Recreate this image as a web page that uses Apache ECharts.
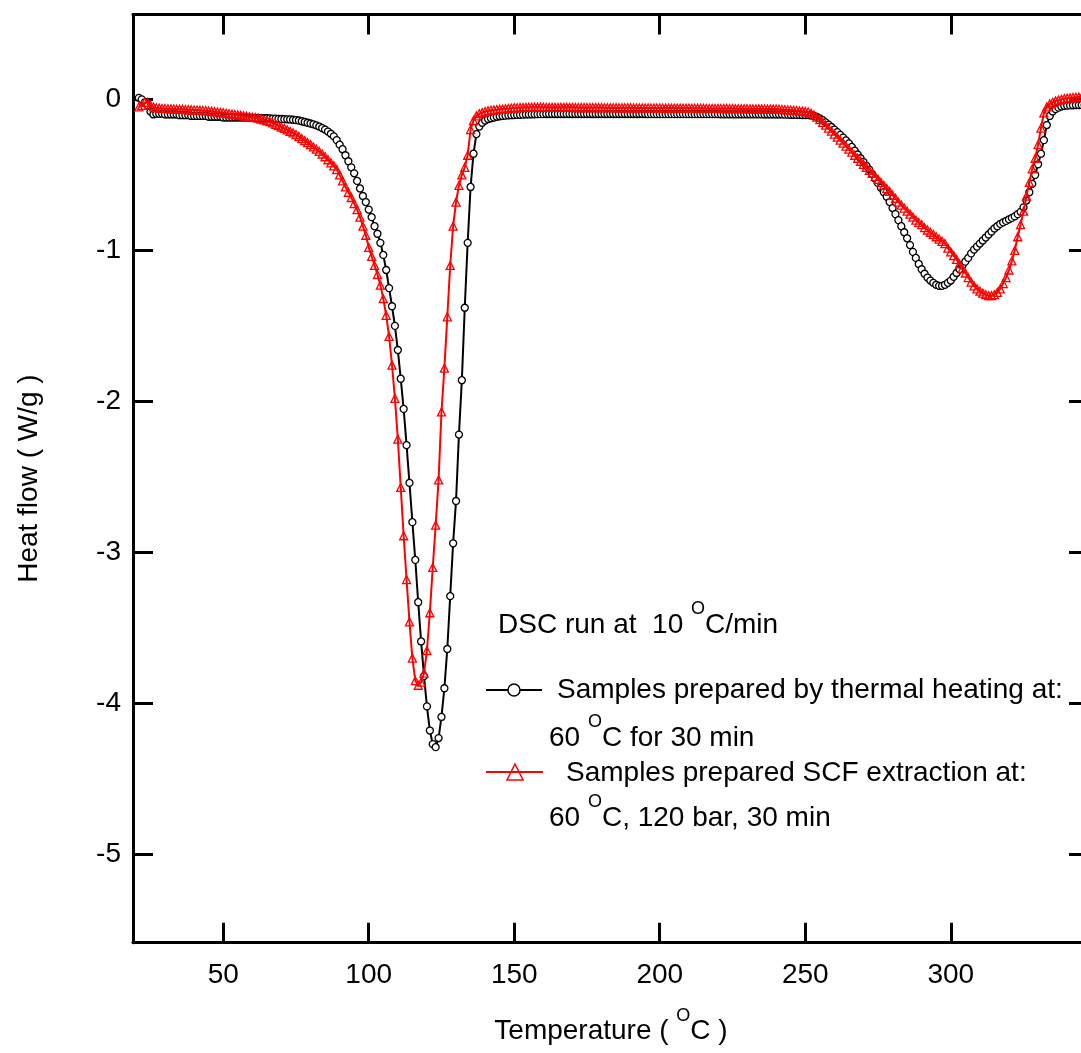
<!DOCTYPE html>
<html>
<head>
<meta charset="utf-8">
<script src="https://cdn.jsdelivr.net/npm/echarts@6/dist/echarts.min.js"></script>
<style>html,body{margin:0;padding:0;background:#fff}#c{width:1081px;height:1053px}</style>
</head>
<body>
<div id="c"></div>
<script>
const temperature = [
21,22,23,24,25,26,27,28,29,30,
31,32,33,34,35,36,37,38,39,40,
41,42,43,44,45,46,47,48,49,50,
51,52,53,54,55,56,57,58,59,60,
61,62,63,64,65,66,67,68,69,70,
71,72,73,74,75,76,77,78,79,80,
81,82,83,84,85,86,87,88,89,90,
91,92,93,94,95,96,97,98,99,100,
101,102,103,104,105,106,107,108,109,110,
111,112,113,114,115,116,117,118,119,120,
121,122,123,124,125,126,127,128,129,130,
131,132,133,134,135,136,137,138,139,140,
141,142,143,144,145,146,147,148,149,150,
151,152,153,154,155,156,157,158,159,160,
161,162,163,164,165,166,167,168,169,170,
171,172,173,174,175,176,177,178,179,180,
181,182,183,184,185,186,187,188,189,190,
191,192,193,194,195,196,197,198,199,200,
201,202,203,204,205,206,207,208,209,210,
211,212,213,214,215,216,217,218,219,220,
221,222,223,224,225,226,227,228,229,230,
231,232,233,234,235,236,237,238,239,240,
241,242,243,244,245,246,247,248,249,250,
251,252,253,254,255,256,257,258,259,260,
261,262,263,264,265,266,267,268,269,270,
271,272,273,274,275,276,277,278,279,280,
281,282,283,284,285,286,287,288,289,290,
291,292,293,294,295,296,297,298,299,300,
301,302,303,304,305,306,307,308,309,310,
311,312,313,314,315,316,317,318,319,320,
321,322,323,324,325,326,327,328,329,330,
331,332,333,334,335,336,337,338,339,340,
341,342,343,344,345,346
];

// Samples prepared by thermal heating (black, circles)
const heatFlowThermal = [
0.01,0.00,-0.02,-0.04,-0.08,-0.10,-0.095,-0.095,-0.095,-0.10,
-0.10,-0.10,-0.10,-0.10,-0.105,-0.105,-0.105,-0.105,-0.11,-0.11,
-0.11,-0.11,-0.11,-0.11,-0.115,-0.115,-0.115,-0.115,-0.115,-0.12,
-0.12,-0.12,-0.12,-0.12,-0.12,-0.12,-0.121,-0.121,-0.121,-0.122,
-0.122,-0.123,-0.124,-0.125,-0.125,-0.126,-0.127,-0.128,-0.129,-0.13,
-0.131,-0.132,-0.133,-0.135,-0.137,-0.14,-0.145,-0.15,-0.155,-0.16,
-0.165,-0.172,-0.18,-0.19,-0.20,-0.213,-0.228,-0.245,-0.27,-0.30,
-0.33,-0.37,-0.41,-0.45,-0.49,-0.54,-0.59,-0.64,-0.68,-0.73,
-0.78,-0.84,-0.89,-0.95,-1.03,-1.13,-1.25,-1.37,-1.50,-1.66,
-1.85,-2.05,-2.29,-2.54,-2.80,-3.05,-3.33,-3.59,-3.82,-4.02,
-4.18,-4.27,-4.29,-4.23,-4.09,-3.90,-3.64,-3.29,-2.94,-2.66,
-2.22,-1.86,-1.38,-0.95,-0.58,-0.36,-0.23,-0.18,-0.155,-0.14,
-0.13,-0.125,-0.12,-0.115,-0.112,-0.11,-0.108,-0.106,-0.105,-0.104,
-0.103,-0.102,-0.101,-0.100,-0.100,-0.099,-0.099,-0.098,-0.098,-0.098,
-0.097,-0.097,-0.097,-0.097,-0.097,-0.097,-0.097,-0.097,-0.097,-0.097,
-0.097,-0.097,-0.097,-0.097,-0.097,-0.097,-0.097,-0.097,-0.097,-0.097,
-0.097,-0.097,-0.097,-0.097,-0.097,-0.097,-0.097,-0.097,-0.097,-0.097,
-0.097,-0.097,-0.097,-0.097,-0.097,-0.098,-0.098,-0.098,-0.098,-0.098,
-0.098,-0.098,-0.098,-0.098,-0.098,-0.098,-0.098,-0.098,-0.098,-0.098,
-0.098,-0.098,-0.098,-0.098,-0.098,-0.098,-0.098,-0.098,-0.098,-0.098,
-0.099,-0.099,-0.099,-0.099,-0.099,-0.099,-0.099,-0.099,-0.099,-0.099,
-0.099,-0.099,-0.099,-0.099,-0.099,-0.100,-0.100,-0.100,-0.100,-0.100,
-0.100,-0.100,-0.101,-0.101,-0.102,-0.102,-0.103,-0.103,-0.104,-0.104,
-0.104,-0.106,-0.11,-0.116,-0.126,-0.138,-0.152,-0.167,-0.183,-0.20,
-0.217,-0.235,-0.253,-0.272,-0.292,-0.315,-0.34,-0.365,-0.39,-0.415,
-0.44,-0.465,-0.495,-0.525,-0.555,-0.585,-0.615,-0.645,-0.68,-0.72,
-0.76,-0.80,-0.84,-0.88,-0.92,-0.965,-1.01,-1.05,-1.09,-1.125,
-1.155,-1.18,-1.20,-1.215,-1.228,-1.235,-1.235,-1.228,-1.215,-1.20,
-1.175,-1.15,-1.125,-1.10,-1.075,-1.05,-1.02,-0.995,-0.975,-0.955,
-0.935,-0.915,-0.895,-0.875,-0.855,-0.84,-0.825,-0.815,-0.805,-0.795,
-0.785,-0.775,-0.76,-0.745,-0.715,-0.67,-0.615,-0.56,-0.50,-0.43,
-0.36,-0.27,-0.17,-0.11,-0.08,-0.065,-0.055,-0.047,-0.043,-0.041,
-0.04,-0.039,-0.038,-0.038,-0.037,-0.037
];

// Samples prepared by SCF extraction (red, triangles)
const heatFlowSCF = [
-0.05,-0.04,-0.02,-0.02,-0.04,-0.05,-0.055,-0.058,-0.06,-0.06,
-0.062,-0.063,-0.064,-0.065,-0.066,-0.066,-0.067,-0.068,-0.069,-0.07,
-0.071,-0.072,-0.074,-0.075,-0.077,-0.079,-0.081,-0.084,-0.086,-0.089,
-0.092,-0.095,-0.098,-0.10,-0.103,-0.106,-0.109,-0.112,-0.115,-0.118,
-0.12,-0.124,-0.13,-0.136,-0.142,-0.148,-0.156,-0.165,-0.174,-0.183,
-0.192,-0.202,-0.212,-0.222,-0.233,-0.246,-0.26,-0.273,-0.287,-0.30,
-0.315,-0.33,-0.345,-0.362,-0.38,-0.40,-0.42,-0.44,-0.465,-0.50,
-0.54,-0.58,-0.615,-0.65,-0.69,-0.73,-0.78,-0.84,-0.90,-0.98,
-1.04,-1.10,-1.16,-1.23,-1.32,-1.43,-1.57,-1.76,-1.98,-2.25,
-2.57,-2.89,-3.18,-3.46,-3.70,-3.85,-3.88,-3.86,-3.80,-3.65,
-3.40,-3.10,-2.82,-2.52,-2.07,-1.78,-1.44,-1.10,-0.84,-0.68,
-0.57,-0.50,-0.45,-0.37,-0.20,-0.14,-0.11,-0.095,-0.088,-0.08,
-0.075,-0.072,-0.07,-0.068,-0.066,-0.064,-0.062,-0.06,-0.058,-0.056,
-0.055,-0.054,-0.053,-0.053,-0.052,-0.052,-0.052,-0.052,-0.052,-0.052,
-0.053,-0.053,-0.053,-0.053,-0.053,-0.053,-0.053,-0.053,-0.053,-0.053,
-0.054,-0.054,-0.054,-0.054,-0.054,-0.054,-0.054,-0.054,-0.054,-0.054,
-0.055,-0.055,-0.055,-0.055,-0.055,-0.056,-0.056,-0.056,-0.056,-0.056,
-0.057,-0.057,-0.057,-0.057,-0.057,-0.057,-0.057,-0.057,-0.057,-0.057,
-0.058,-0.058,-0.058,-0.058,-0.058,-0.058,-0.058,-0.058,-0.058,-0.058,
-0.059,-0.059,-0.059,-0.059,-0.059,-0.060,-0.060,-0.060,-0.060,-0.060,
-0.061,-0.061,-0.061,-0.061,-0.061,-0.062,-0.062,-0.062,-0.062,-0.062,
-0.063,-0.063,-0.063,-0.063,-0.063,-0.064,-0.064,-0.064,-0.064,-0.064,
-0.066,-0.067,-0.068,-0.07,-0.071,-0.072,-0.074,-0.076,-0.078,-0.08,
-0.084,-0.092,-0.104,-0.118,-0.134,-0.152,-0.17,-0.19,-0.21,-0.23,
-0.25,-0.27,-0.29,-0.31,-0.33,-0.35,-0.37,-0.39,-0.41,-0.43,
-0.45,-0.47,-0.49,-0.51,-0.53,-0.55,-0.57,-0.59,-0.61,-0.635,
-0.655,-0.68,-0.70,-0.72,-0.74,-0.76,-0.78,-0.80,-0.815,-0.83,
-0.85,-0.865,-0.88,-0.895,-0.91,-0.925,-0.94,-0.955,-0.985,-1.01,
-1.035,-1.06,-1.09,-1.12,-1.15,-1.18,-1.21,-1.235,-1.255,-1.27,
-1.283,-1.293,-1.30,-1.30,-1.293,-1.278,-1.255,-1.22,-1.18,-1.13,
-1.07,-1.00,-0.91,-0.83,-0.74,-0.64,-0.55,-0.46,-0.39,-0.30,
-0.19,-0.09,-0.05,-0.03,-0.02,-0.01,-0.005,0.0,0.005,0.008,
0.01,0.012,0.014,0.015,0.016,0.017
];

const xTicks = [50, 100, 150, 200, 250, 300];
const yTicks = [-5, -4, -3, -2, -1, 0];

const FONT = '"Liberation Sans", Arial, sans-serif';

const chart = echarts.init(document.getElementById('c'), null, {renderer: 'canvas'});

function pairs(xs, ys) { return xs.map((x, i) => [x, ys[i]]); }

const richAxis = {
  a: {fontSize: 28, fontFamily: FONT, color: '#000'},
  s: {fontSize: 18, fontFamily: FONT, color: '#000', padding: [0, 0, 32, 0]}
};
const richG = {
  a: {fontSize: 28, fontFamily: FONT, fill: '#000', color: '#000'},
  s: {fontSize: 18, fontFamily: FONT, fill: '#000', color: '#000', padding: [0, 0, 32, 0]}
};

function baseX(pos, showLabel) {
  return {
    type: 'value', min: 19, max: 347.5, position: pos, gridIndex: 0,
    axisLine: {show: true, onZero: false, lineStyle: {color: '#000', width: 3}},
    axisTick: {show: true, inside: true, length: 20, customValues: xTicks, lineStyle: {color: '#000', width: 3}},
    axisLabel: {show: showLabel, customValues: xTicks, fontSize: 28, fontFamily: FONT, color: '#000', margin: 19},
    splitLine: {show: false}
  };
}
function baseY(pos, showLabel) {
  return {
    type: 'value', min: -5.585, max: 0.562, position: pos, gridIndex: 0,
    axisLine: {show: true, onZero: false, lineStyle: {color: '#000', width: 3}},
    axisTick: {show: true, inside: true, length: 20, customValues: yTicks, lineStyle: {color: '#000', width: 3}},
    axisLabel: {show: showLabel, customValues: yTicks, fontSize: 28, fontFamily: FONT, color: '#000', margin: 12},
    splitLine: {show: false}
  };
}

const xBottom = baseX('bottom', true);
xBottom.name = '{a|Temperature ( }{s|O}{a|C )}';
xBottom.nameLocation = 'middle';
xBottom.nameGap = 64;
xBottom.nameMoveOverlap = false;
xBottom.nameTextStyle = {fontSize: 28, fontFamily: FONT, color: '#000', rich: richAxis};

const yLeft = baseY('left', true);
yLeft.name = 'Heat flow ( W/g )';
yLeft.nameLocation = 'middle';
yLeft.nameGap = 90;
yLeft.nameRotate = 90;
yLeft.nameMoveOverlap = false;
yLeft.nameTextStyle = {fontSize: 28, fontFamily: FONT, color: '#000'};

const graphics = [
  {type: 'text', x: 498, y: 625, z: 100, style: {text: '{a|DSC run at  10 }{s|O}{a|C/min}', rich: richG, align: 'left', verticalAlign: 'middle', fontSize: 28, fontFamily: FONT, fill: '#000'}},
  {type: 'line', z: 100, shape: {x1: 486, y1: 690, x2: 542, y2: 690}, style: {stroke: '#000', lineWidth: 2}},
  {type: 'circle', z: 101, shape: {cx: 514, cy: 690, r: 6}, style: {fill: '#fff', stroke: '#000', lineWidth: 1.5}},
  {type: 'text', x: 557, y: 690, z: 100, style: {text: '{a|Samples prepared by thermal heating at:}', rich: richG, align: 'left', verticalAlign: 'middle', fontSize: 28, fontFamily: FONT, fill: '#000'}},
  {type: 'text', x: 549, y: 738, z: 100, style: {text: '{a|60 }{s|O}{a|C for 30 min}', rich: richG, align: 'left', verticalAlign: 'middle', fontSize: 28, fontFamily: FONT, fill: '#000'}},
  {type: 'line', z: 100, shape: {x1: 486, y1: 772, x2: 543, y2: 772}, style: {stroke: '#ff0000', lineWidth: 2}},
  {type: 'polygon', z: 101, shape: {points: [[515, 764], [523, 780], [507, 780]]}, style: {fill: 'rgba(255,255,255,0)', stroke: '#ff0000', lineWidth: 1.5}},
  {type: 'text', x: 566, y: 773, z: 100, style: {text: '{a|Samples prepared SCF extraction at:}', rich: richG, align: 'left', verticalAlign: 'middle', fontSize: 28, fontFamily: FONT, fill: '#000'}},
  {type: 'text', x: 549, y: 818, z: 100, style: {text: '{a|60 }{s|O}{a|C, 120 bar, 30 min}', rich: richG, align: 'left', verticalAlign: 'middle', fontSize: 28, fontFamily: FONT, fill: '#000'}}
];

chart.setOption({
  animation: false,
  backgroundColor: '#fff',
  grid: {left: 133, right: -8, top: 14.5, bottom: 110.3, containLabel: false, outerBoundsMode: 'none'},
  xAxis: [xBottom, baseX('top', false)],
  yAxis: [yLeft, baseY('right', false)],
  graphic: graphics,
  series: [
    {
      name: 'Samples prepared by thermal heating', type: 'line', xAxisIndex: 0, yAxisIndex: 0,
      data: pairs(temperature, heatFlowThermal),
      symbol: 'circle', symbolSize: 7, showSymbol: true, showAllSymbol: true,
      lineStyle: {color: '#000', width: 2},
      itemStyle: {color: '#fff', borderColor: '#000', borderWidth: 1.3},
      z: 2, clip: true
    },
    {
      name: 'Samples prepared SCF extraction', type: 'line', xAxisIndex: 0, yAxisIndex: 0,
      data: pairs(temperature, heatFlowSCF),
      symbol: 'triangle', symbolSize: 8, showSymbol: true, showAllSymbol: true,
      lineStyle: {color: '#ff0000', width: 2},
      itemStyle: {color: 'rgba(255,255,255,0)', borderColor: '#ff0000', borderWidth: 1.3},
      z: 3, clip: true
    }
  ]
});
</script>
</body>
</html>
